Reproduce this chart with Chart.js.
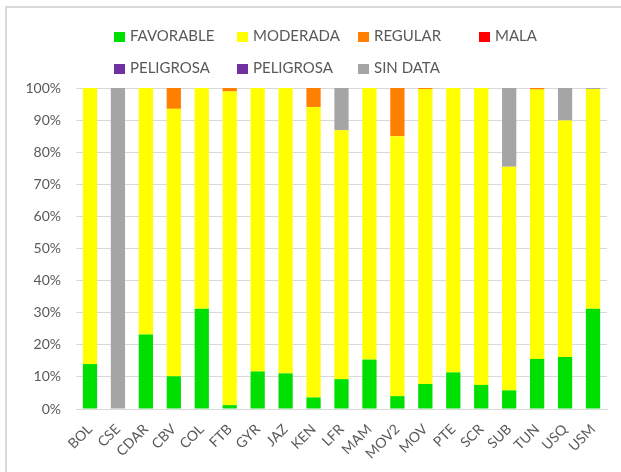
<!DOCTYPE html>
<html>
<head>
<meta charset="utf-8">
<script src="https://cdn.jsdelivr.net/npm/chart.js@4"></script>
<style>
body { margin: 0; background: #fff; }
#caja { position: relative; width: 621px; height: 472px; overflow: hidden; }
#marco { position: absolute; left: 5px; top: 6px; width: 700px; height: 500px; border-left: 2px solid #d9d9d9; border-top: 2px solid #d9d9d9; }
#grafico { position: absolute; left: 0; top: 0; }
.item { position: absolute; font: 15px Lato, sans-serif; color: #595959; white-space: nowrap; line-height: 16px; }
.item span { display: inline-block; width: 11px; height: 10px; margin-right: 5px; vertical-align: -1px; }
</style>
</head>
<body>
<div id="caja">
  <div id="marco"></div>
  <canvas id="grafico" width="621" height="472"></canvas>
  <div id="leyenda"></div>
</div>
<script>
// categorias (estaciones)
const estaciones = ["BOL", "CSE", "CDAR", "CBV", "COL", "FTB", "GYR", "JAZ", "KEN", "LFR", "MAM", "MOV2", "MOV", "PTE", "SCR", "SUB", "TUN", "USQ", "USM"];

// porcentajes por categoria de calidad
const favorable = [14, 0, 23.2, 10.2, 31.2, 1.2, 11.7, 11.1, 3.6, 9.3, 15.4, 4.0, 7.8, 11.4, 7.5, 5.8, 15.6, 16.2, 31.2];
const moderada  = [86, 0, 76.8, 83.3, 68.8, 97.7, 88.3, 88.9, 90.5, 77.5, 84.6, 81.0, 91.9, 88.6, 92.5, 69.7, 83.9, 73.7, 68.5];
const regular   = [0, 0, 0, 6.5, 0, 1.1, 0, 0, 5.9, 0, 0, 15.0, 0.3, 0, 0, 0, 0.5, 0, 0];
const mala      = [0, 0, 0, 0, 0, 0, 0, 0, 0, 0, 0, 0, 0, 0, 0, 0, 0, 0, 0];
const peligrosa = [0, 0, 0, 0, 0, 0, 0, 0, 0, 0, 0, 0, 0, 0, 0, 0, 0, 0, 0];
const peligrosa2 = [0, 0, 0, 0, 0, 0, 0, 0, 0, 0, 0, 0, 0, 0, 0, 0, 0, 0, 0];
const sinData   = [0, 100, 0, 0, 0, 0, 0, 0, 0, 13.2, 0, 0, 0, 0, 0, 24.5, 0, 10.1, 0.3];

const nombres = ["FAVORABLE", "MODERADA", "REGULAR", "MALA", "PELIGROSA", "PELIGROSA", "SIN DATA"];
const colores = ["#00e000", "#ffff00", "#ff8000", "#ff0000", "#7030a0", "#7030a0", "#a5a5a5"];
const series = [favorable, moderada, regular, mala, peligrosa, peligrosa2, sinData];

// ticks del eje y
const ticksY = [0, 10, 20, 30, 40, 50, 60, 70, 80, 90, 100];

// leyenda en dos filas (como en excel)
const colX = [114, 237, 358, 479, 114, 237, 358];
const filaY = [27, 27, 27, 27, 59, 59, 59];
const leyenda = document.getElementById("leyenda");
nombres.forEach((n, i) => {
  let d = document.createElement("div");
  d.className = "item";
  d.style.left = colX[i] + "px";
  d.style.top = filaY[i] + "px";
  d.innerHTML = '<span style="background:' + colores[i] + '"></span>' + n;
  leyenda.append(d);
});

const datasets = series.map((s, i) => ({
  label: nombres[i],
  data: s,
  backgroundColor: colores[i],
  borderWidth: 0,
  barPercentage: 0.51,
  categoryPercentage: 1
}));

new Chart(document.getElementById("grafico"), {
  type: "bar",
  data: { labels: estaciones, datasets: datasets },
  options: {
    responsive: false,
    animation: false,
    layout: { padding: { top: 88, right: 14, left: 0, bottom: 0 } },
    plugins: { legend: { display: false }, tooltip: { enabled: false } },
    scales: {
      x: {
        stacked: true,
        grid: { display: false },
        border: { color: "#d9d9d9" },
        ticks: { color: "#595959", font: { family: "Lato", size: 14 }, autoSkip: false, minRotation: 45, maxRotation: 45, padding: 4 },
        afterFit: (s) => { s.height = 63; }
      },
      y: {
        stacked: true,
        min: 0,
        max: 100,
        afterBuildTicks: (s) => { s.ticks = ticksY.map(v => ({ value: v })); },
        grid: { color: "#d9d9d9", lineWidth: 1, drawTicks: false },
        border: { display: false },
        ticks: { color: "#595959", font: { family: "Lato", size: 14 }, padding: 15, callback: v => v + "%" },
        afterFit: (s) => { s.width = 76; }
      }
    }
  }
});
</script>
</body>
</html>
